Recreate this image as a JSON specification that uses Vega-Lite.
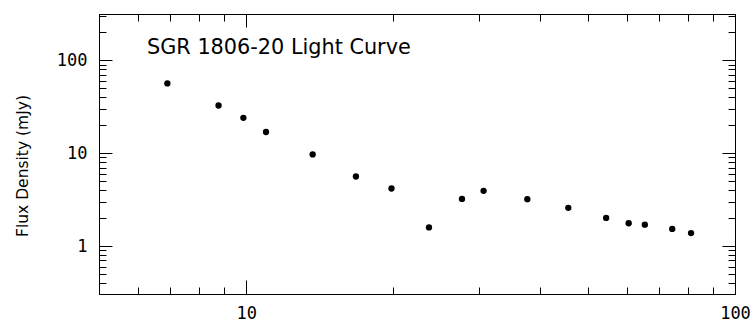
{
  "$schema": "https://vega.github.io/schema/vega-lite/v6.json",
  "width": 636,
  "height": 280,
  "autosize": "none",
  "padding": {"left": 99, "top": 14, "right": 21, "bottom": 31},
  "background": "white",
  "config": {
    "view": {"stroke": "black", "strokeWidth": 1},
    "axis": {"grid": false, "domainColor": "black", "tickColor": "black", "labelColor": "black", "titleColor": "black", "labelFont": "DejaVu Sans Mono", "labelFontSize": 17, "labelFlush": false, "labelOverlap": false}
  },
  "title": {
    "text": "SGR 1806-20 Light Curve",
    "anchor": "start",
    "frame": "group",
    "orient": "top",
    "dx": 48,
    "offset": -61,
    "baseline": "alphabetic",
    "font": "DejaVu Sans",
    "fontSize": 20.8,
    "fontWeight": "normal",
    "color": "black"
  },
  "data": {
    "values": [
      {"day": 6.9, "flux": 56.4},
      {"day": 8.78, "flux": 32.6},
      {"day": 9.87, "flux": 24.0},
      {"day": 10.98, "flux": 16.9},
      {"day": 13.68, "flux": 9.71},
      {"day": 16.77, "flux": 5.61},
      {"day": 19.83, "flux": 4.17},
      {"day": 23.66, "flux": 1.59},
      {"day": 27.64, "flux": 3.22},
      {"day": 30.6, "flux": 3.93},
      {"day": 37.6, "flux": 3.2},
      {"day": 45.6, "flux": 2.58},
      {"day": 54.5, "flux": 2.01},
      {"day": 60.6, "flux": 1.76},
      {"day": 65.4, "flux": 1.7},
      {"day": 74.4, "flux": 1.53},
      {"day": 81.3, "flux": 1.38}
    ]
  },
  "resolve": {"axis": {"x": "independent", "y": "independent"}},
  "layer": [
    {
      "mark": {"type": "point", "filled": true, "shape": "circle", "size": 40, "color": "black", "opacity": 1},
      "encoding": {
        "x": {"field": "day", "type": "quantitative", "scale": {"type": "log", "domain": [5, 100], "nice": false},
          "axis": {"orient": "bottom", "values": [10, 100], "format": "d", "tickSize": -14, "labelPadding": 25, "title": null}},
        "y": {"field": "flux", "type": "quantitative", "scale": {"type": "log", "domain": [0.305, 315], "nice": false},
          "axis": {"orient": "left", "values": [1, 10, 100], "format": "d", "tickSize": -13, "labelPadding": 25, "title": "Flux Density (mJy)", "titleFont": "DejaVu Sans", "titleFontSize": 15.5, "titleFontWeight": "normal", "titlePadding": 26, "titleY": 151.5}}
      }
    },
    {
      "mark": {"type": "point", "opacity": 0},
      "encoding": {
        "x": {"field": "day", "type": "quantitative", "axis": {"orient": "top", "values": [10, 100], "labels": false, "tickSize": -13, "title": null}},
        "y": {"field": "flux", "type": "quantitative", "axis": {"orient": "right", "values": [1, 10, 100], "labels": false, "tickSize": -13, "title": null}}
      }
    },
    {
      "mark": {"type": "point", "opacity": 0},
      "encoding": {
        "x": {"field": "day", "type": "quantitative", "axis": {"orient": "bottom", "values": [6, 7, 8, 9, 20, 30, 40, 50, 60, 70, 80, 90], "labels": false, "domain": false, "tickSize": -7, "title": null}},
        "y": {"field": "flux", "type": "quantitative", "axis": {"orient": "left", "values": [0.4, 0.5, 0.6, 0.7, 0.8, 0.9, 2, 3, 4, 5, 6, 7, 8, 9, 20, 30, 40, 50, 60, 70, 80, 90, 200, 300], "labels": false, "domain": false, "tickSize": -7, "title": null}}
      }
    },
    {
      "mark": {"type": "point", "opacity": 0},
      "encoding": {
        "x": {"field": "day", "type": "quantitative", "axis": {"orient": "top", "values": [6, 7, 8, 9, 20, 30, 40, 50, 60, 70, 80, 90], "labels": false, "domain": false, "tickSize": -7, "title": null}},
        "y": {"field": "flux", "type": "quantitative", "axis": {"orient": "right", "values": [0.4, 0.5, 0.6, 0.7, 0.8, 0.9, 2, 3, 4, 5, 6, 7, 8, 9, 20, 30, 40, 50, 60, 70, 80, 90, 200, 300], "labels": false, "domain": false, "tickSize": -7, "title": null}}
      }
    }
  ]
}
